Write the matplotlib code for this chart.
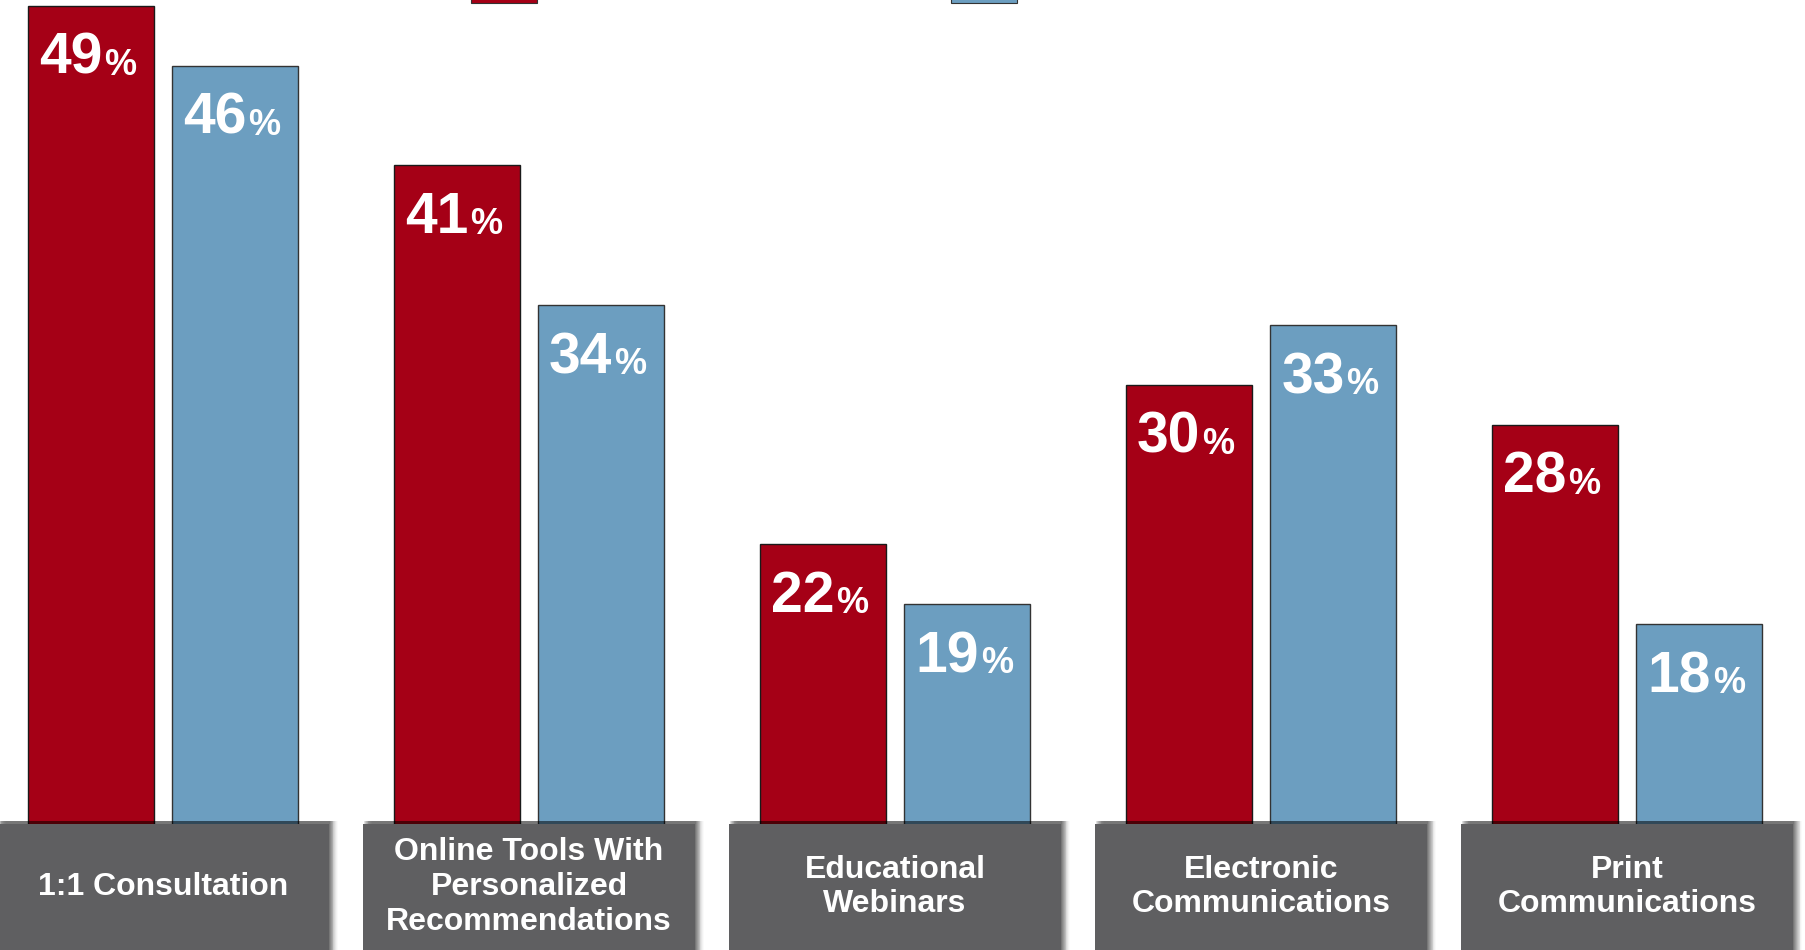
import numpy as np
import matplotlib
matplotlib.use('Agg')
import matplotlib.pyplot as plt
from matplotlib.patches import Rectangle
import matplotlib.transforms as mtransforms

plt.rcParams['font.family'] = ['Liberation Sans', 'DejaVu Sans']

categories = ['1:1 Consultation',
              'Online Tools With\nPersonalized\nRecommendations',
              'Educational\nWebinars',
              'Electronic\nCommunications',
              'Print\nCommunications']
series_a = [49, 41, 22, 30, 28]
series_b = [46, 34, 19, 33, 18]

red = '#A50016'
blue = '#6C9EC0'
box_gray = '#5F5F61'

fig = plt.figure(figsize=(18.05, 9.5), dpi=100)
ax = fig.add_axes([0, 0, 1, 1])
ax.set_xlim(-0.445, 4.486)
ax.set_ylim(1.655, 49.30)
ax.axis('off')

x = np.arange(len(categories))
w = 0.344
off = 0.197

bars_a = ax.bar(x - off, series_a, w, color=red, edgecolor='#1a1a1a', linewidth=1, zorder=2)
bars_b = ax.bar(x + off, series_b, w, color=blue, edgecolor='#333333', linewidth=1, zorder=2)

def add_labels(bars, vals):
    for b, v in zip(bars, vals):
        t = ax.annotate(str(v), xy=(b.get_x(), v), xytext=(11, -68),
                        textcoords='offset pixels', ha='left', va='baseline',
                        fontsize=41, fontweight='bold', color='white', zorder=5)
        ax.annotate('%', xy=(1, 0), xycoords=t, xytext=(2, 3),
                    textcoords='offset pixels', ha='left', va='bottom',
                    fontsize=26, fontweight='bold', color='white', zorder=5)

add_labels(bars_a, series_a)
add_labels(bars_b, series_b)

# category boxes under the bars
trans = mtransforms.blended_transform_factory(ax.transData, ax.transAxes)
box_w = 0.907
box_top = 1 - 824 / 950
for xi, cat in zip(x, categories):
    # soft shadow
    for k, a in zip(range(1, 11), np.linspace(0.12, 0.02, 10)):
        sh = Rectangle((xi - box_w / 2 + k * 0.0025, -0.1), box_w, box_top + 0.1 + 0.003,
                       transform=trans, color='black', alpha=a, lw=0, zorder=3)
        ax.add_patch(sh)
    ax.add_patch(Rectangle((xi - box_w / 2, -0.1), box_w, box_top + 0.1,
                           transform=trans, color=box_gray, lw=0, zorder=4))
    ax.text(xi, box_top / 2, cat, transform=trans, ha='center', va='center',
            fontsize=23, fontweight='bold', color='white', linespacing=1.2, zorder=6)

# legend keys cut by the top edge
fig.add_artist(Rectangle((471 / 1805, 1 - 3 / 950), 66 / 1805, 10 / 950,
                         transform=fig.transFigure, facecolor=red, edgecolor='#333333', lw=0.8))
fig.add_artist(Rectangle((951 / 1805, 1 - 3 / 950), 66 / 1805, 10 / 950,
                         transform=fig.transFigure, facecolor=blue, edgecolor='#333333', lw=0.8))

fig.savefig('out.png', dpi=100)
